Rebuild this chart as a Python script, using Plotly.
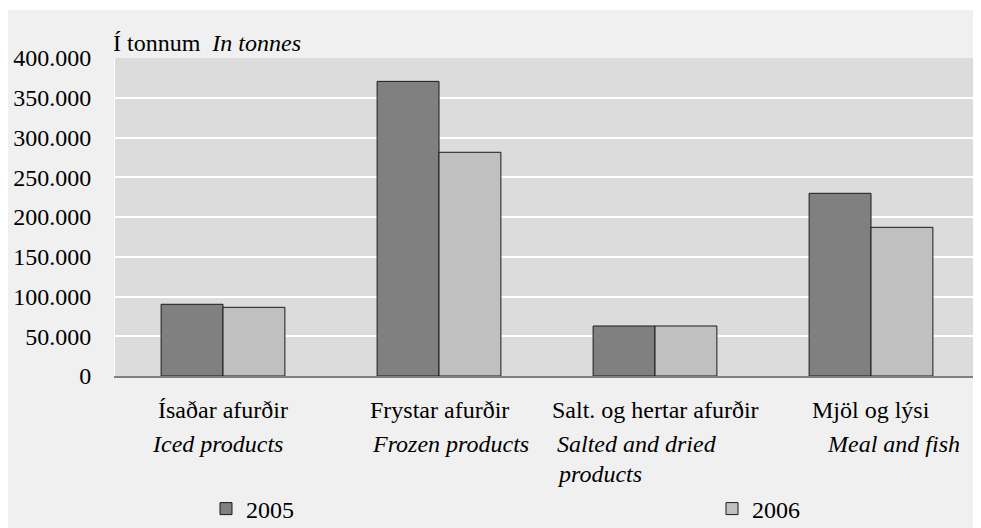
import plotly.graph_objects as go

categories = ["Ísaðar afurðir", "Frystar afurðir", "Salt. og hertar afurðir", "Mjöl og lýsi"]
english_labels = ["Iced products", "Frozen products", "Salted and dried<br>products", "Meal and fish"]
values_2005 = [90200, 370600, 62900, 229800]
values_2006 = [86400, 281400, 62900, 187000]
series_names = ["2005", "2006"]
tick_values = [0, 50000, 100000, 150000, 200000, 250000, 300000, 350000, 400000]

FONT = "Liberation Serif, Times New Roman, Times, serif"
FS = 24

fig = go.Figure()
fig.add_trace(go.Bar(x=categories, y=values_2005, name=series_names[0], legend="legend",
                     marker=dict(color="#808080", line=dict(color="#1a1a1a", width=1))))
fig.add_trace(go.Bar(x=categories, y=values_2006, name=series_names[1], legend="legend2",
                     marker=dict(color="#c0c0c0", line=dict(color="#1a1a1a", width=1))))

# page offset of 8px (body margin) -> figure occupies 973x520 of the 981x528 window
W, H = 973, 520
L, R, T, B = 107, 2, 50, 152
pw, ph = W - L - R, H - T - B

annotations = []
for c in categories:
    annotations.append(dict(x=c, xref="x", y=0, yref="paper", text=c, showarrow=False,
                            xanchor="center", yanchor="middle", yshift=-34,
                            font=dict(family=FONT, size=FS, color="#000")))
eng_shift = [-6, 11, -100, 22]
eng_anchor = ["center", "center", "left", "center"]
line_shifts = [-68, -98]
for c, e, s, a in zip(categories, english_labels, eng_shift, eng_anchor):
    parts = e.split("<br>")
    for i, p in enumerate(parts):
        annotations.append(dict(x=c, xref="x", y=0, yref="paper", text="<i>" + p + "</i>",
                                showarrow=False, xanchor=a, yanchor="middle",
                                xshift=s, yshift=line_shifts[i],
                                font=dict(family=FONT, size=FS, color="#000")))
annotations.append(dict(x=0, xref="paper", y=1, yref="paper", xanchor="left", yanchor="bottom",
                        xshift=-4, yshift=0, showarrow=False,
                        text="Í tonnum  <i>In tonnes</i>",
                        font=dict(family=FONT, size=FS, color="#000")))

shapes = [
    dict(type="rect", xref="paper", yref="paper", layer="below",
         x0=-L / pw - 0.01, x1=(W - L) / pw + 0.01, y0=(H - B - 2) / ph, y1=(H - B) / ph + 0.01,
         fillcolor="white", line=dict(width=0)),
]

legend_common = dict(orientation="h", xref="container", yref="container",
                     y=1 - 501 / H, xanchor="left", yanchor="middle",
                     bgcolor="rgba(0,0,0,0)", font=dict(family=FONT, size=FS, color="#000"))

fig.update_layout(
    width=W, height=H,
    margin=dict(l=L, r=R, t=T, b=B),
    paper_bgcolor="#f0f0f0", plot_bgcolor="#dcdcdc",
    barmode="group", bargap=0.427, bargroupgap=0,
    separators=",.",
    font=dict(family=FONT, size=FS, color="#000"),
    showlegend=True,
    legend=dict(x=198 / W, **legend_common),
    legend2=dict(x=704 / W, **legend_common),
    annotations=annotations,
    shapes=shapes,
)
fig.update_xaxes(showticklabels=False, showgrid=False, showline=True,
                 linecolor="#808080", linewidth=2, ticks="")
fig.update_yaxes(range=[0, 400000], tickvals=tick_values, tickformat=",d",
                 showgrid=True, gridcolor="#ffffff", gridwidth=2,
                 zeroline=False, showline=True, linecolor="#ffffff", linewidth=1,
                 ticks="", ticklabelstandoff=18,
                 tickfont=dict(family=FONT, size=FS, color="#000"))

fig.write_html("out.html")
